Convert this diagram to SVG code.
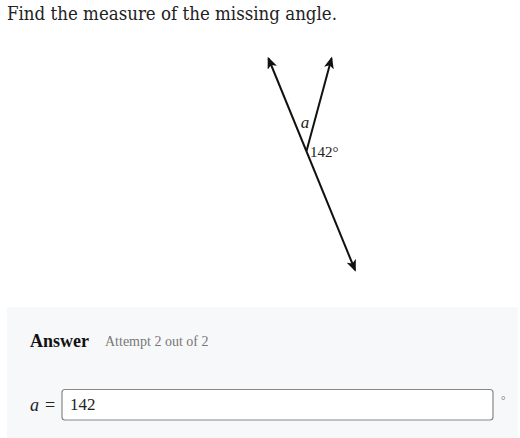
<svg xmlns="http://www.w3.org/2000/svg" width="520" height="438" viewBox="0 0 520 438">
<style>
.serif{font-family:"DejaVu Serif","Liberation Serif",serif;}
.lib{font-family:"Liberation Serif","DejaVu Serif",serif;}
.ln{stroke:#111;stroke-width:2;fill:none;}
</style>
<defs>
<marker id="ah" viewBox="0 0 12 10" refX="10" refY="5" markerWidth="12" markerHeight="10" markerUnits="userSpaceOnUse" orient="auto-start-reverse">
<path d="M0,0 L12,5 L0,10 L3,5 Z" fill="#111"/>
</marker>
</defs>
<rect width="520" height="438" fill="#fff"/>
<text class="serif" x="7" y="20" font-size="19" fill="#222" textLength="330" lengthAdjust="spacingAndGlyphs">Find the measure of the missing angle.</text>
<g id="connectors">
<line class="ln" x1="268.5" y1="58.5" x2="355" y2="270" marker-start="url(#ah)" marker-end="url(#ah)"/>
<line class="ln" x1="306.5" y1="151" x2="331.5" y2="58.5" marker-end="url(#ah)"/>
</g>
<g id="labels">
<text class="lib" x="305" y="128" font-size="17" font-style="italic" text-anchor="middle" fill="#222">a</text>
<text class="lib" x="310" y="157" font-size="15" fill="#222">142°</text>
</g>
<g id="answer">
<rect x="7" y="307" width="511" height="131" fill="#f7f8fa"/>
<text class="lib" x="30" y="347" font-size="18" font-weight="bold" fill="#111">Answer</text>
<text class="lib" x="105" y="346" font-size="14" fill="#777">Attempt 2 out of 2</text>
<text class="lib" x="30" y="411" font-size="18" font-style="italic" fill="#222">a</text>
<text class="lib" x="45" y="411" font-size="18" fill="#222">=</text>
<rect x="62" y="389.5" width="431" height="30.5" rx="3" fill="#fff" stroke="#888" stroke-width="1.2"/>
<text class="lib" x="70" y="410" font-size="17" fill="#222">142</text>
<text class="lib" x="501" y="404" font-size="11" fill="#666">°</text>
</g>
</svg>
